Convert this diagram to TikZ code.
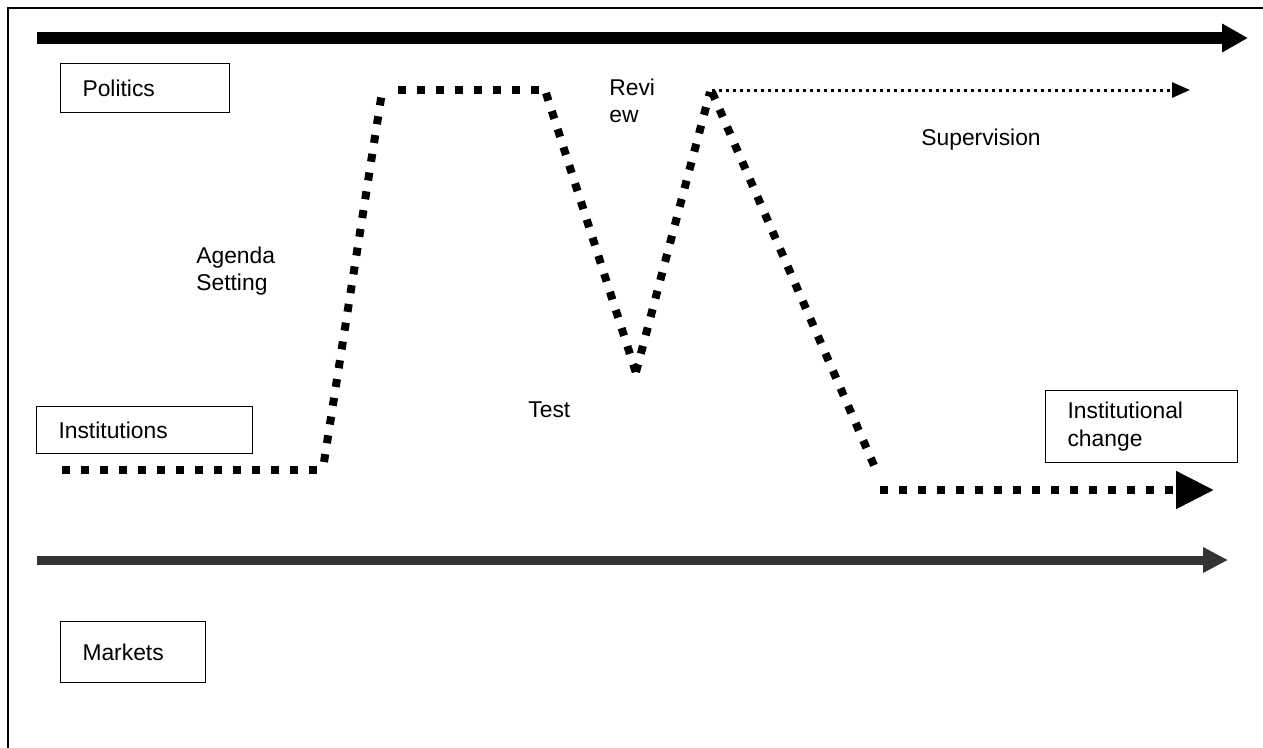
\documentclass[tikz,border=0pt]{standalone}
\usepackage{fontspec}
\setmainfont{Liberation Sans}
\usetikzlibrary{arrows.meta}
\usetikzlibrary{positioning}
\tikzset{box/.style={draw=black, line width=0.6pt, inner xsep=0.44cm, inner ysep=0pt, align=left, anchor=north west, font=\fontsize{13}{15.5}\selectfont}}
\tikzset{lbl/.style={anchor=west, inner sep=0pt, align=left, font=\fontsize{13}{15.5}\selectfont}}
\tikzset{stage/.style={line width=0.16cm, dash pattern=on 0.16cm off 0.22cm}}

\begin{document}
\begin{tikzpicture}[x=0.02cm, y=-0.02cm]
\useasboundingbox (0,0) rectangle (1263,747);
\draw[line width=0.04cm] (8,760) -- (8,8) -- (1275,8);

% the three lanes
\coordinate (t0) at (37,38);
\coordinate (t1) at (1248,38);
\draw[line width=0.23cm, -{Triangle[length=0.52cm, width=0.54cm]}] (t0) -- (t1);
\coordinate (m0) at (37,560);
\coordinate (m1) at (1228,560);
\draw[line width=0.18cm, black!80, -{Triangle[length=0.5cm, width=0.48cm]}] (m0) -- (m1);

\node[box, text width=2.5cm, minimum height=0.98cm] (pol) at (60,63) {Politics};
\node[box, text width=3.44cm, minimum height=0.94cm] (inst) at (36,406) {Institutions};
\node[box, text width=2.02cm, minimum height=1.22cm] (mark) at (60,621) {Markets};
\node[box, text width=2.96cm, minimum height=1.44cm] (chg) at (1045,390) {Institutional\\change};

\node[lbl] (agenda) at (196,271) {Agenda\\Setting};
\node[lbl] (review) at (609,101) {Revi\\ew};
\node[lbl] (test) at (528,410) {Test};
\node[lbl] (sup) at (921,140) {Supervision};

% the reform path
\coordinate (c1) at (62,470);  \coordinate (c2) at (322,470);
\coordinate (c3) at (324,462); \coordinate (c4) at (382,92);
\coordinate (c5) at (398,90);  \coordinate (c6) at (545,90);
\coordinate (c7) at (546,93);  \coordinate (c8) at (637,376);
\coordinate (c9) at (636,372); \coordinate (c10) at (710,92);
\coordinate (c11) at (712,92); \coordinate (c12) at (876,470);
\foreach \i / \j in {1/2,3/4,5/6,7/8,9/10,11/12} {
	\draw[stage] (c\i) -- (c\j);
}
\coordinate (c13) at (880,490); \coordinate (c14) at (1214,490);
\draw[stage, -{Triangle[length=0.76cm, width=0.72cm]}] (c13) -- (c14);

\coordinate (s0) at (712,90);
\coordinate (s1) at (1190,90);
\draw[line width=0.06cm, dash pattern=on 0.06cm off 0.08cm, -{Triangle[length=0.36cm, width=0.3cm]}] (s0) -- (s1);
\end{tikzpicture}
\end{document}
